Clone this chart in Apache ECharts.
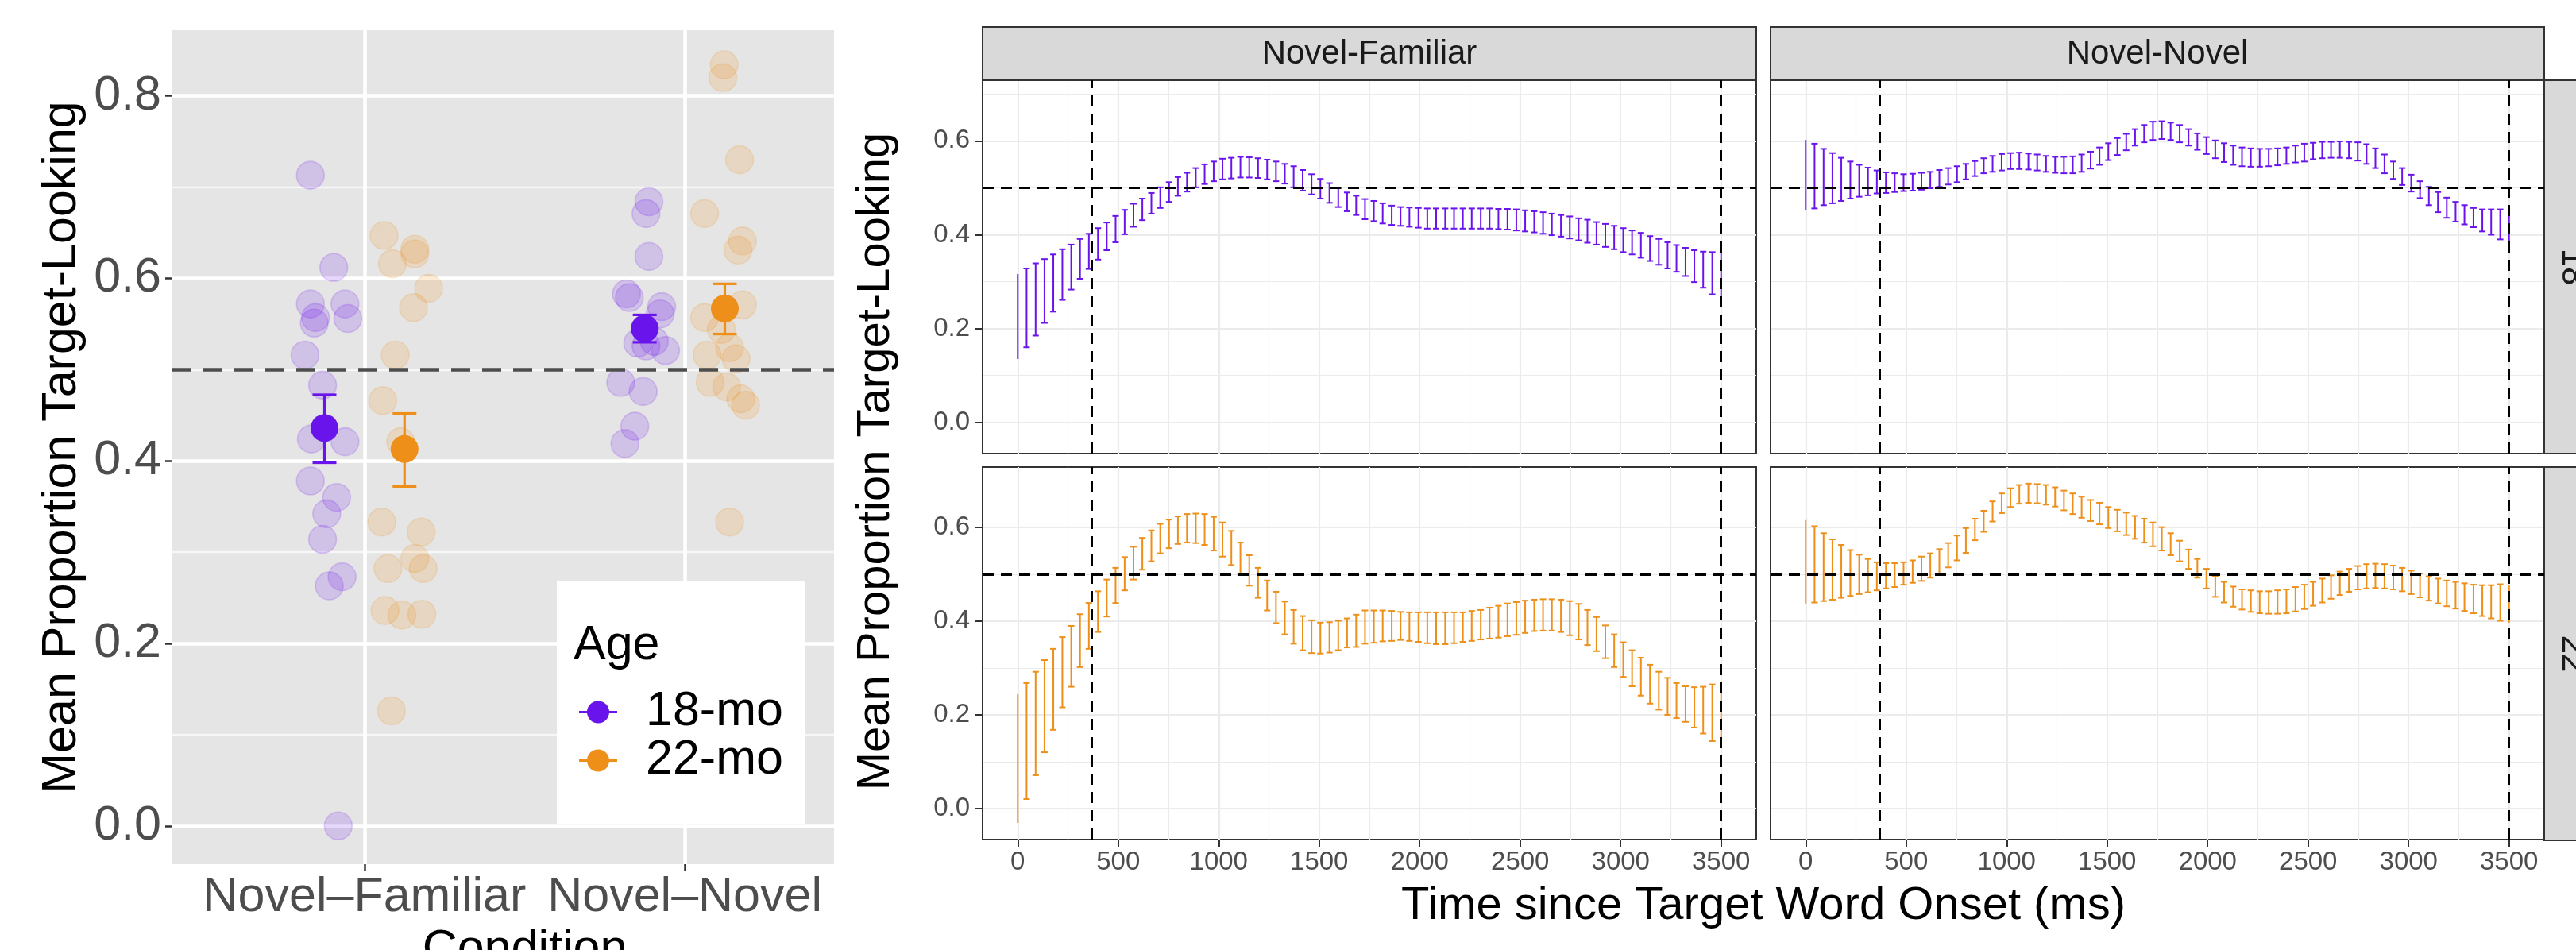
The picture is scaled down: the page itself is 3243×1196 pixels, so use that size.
<!DOCTYPE html>
<html>
<head>
<meta charset="utf-8">
<script src="https://cdn.jsdelivr.net/npm/echarts@6.0.0/dist/echarts.min.js"></script>
<style>
  html, body { margin: 0; padding: 0; background: #fff; }
  #chart { width: 3243px; height: 1196px; }
</style>
</head>
<body>
<div id="chart"></div>
<script>
// ---- left plot: mean proportion by condition and age ----
const conditions = ['Novel–Familiar', 'Novel–Novel'];
const ageGroups = ['18-mo', '22-mo'];
const leftYTicks = [0, 0.2, 0.4, 0.6, 0.8];
const leftYMinor = [0.1, 0.3, 0.5, 0.7];
const chance = 0.5;

// per-child proportions (offset = jittered position relative to the condition)
const nf18 = [0.713, 0.612, 0.572, 0.572, 0.557, 0.556, 0.551, 0.516, 0.483, 0.421, 0.424, 0.378, 0.360, 0.342, 0.314, 0.273, 0.263, 0.0];
const nf18Off = [-0.169, -0.096, -0.169, -0.061, -0.153, -0.052, -0.157, -0.186, -0.131, -0.061, -0.166, -0.169, -0.087, -0.118, -0.131, -0.070, -0.110, -0.082];
const nn18 = [0.684, 0.671, 0.624, 0.583, 0.579, 0.569, 0.561, 0.529, 0.531, 0.521, 0.526, 0.486, 0.476, 0.438, 0.419];
const nn18Off = [-0.112, -0.121, -0.112, -0.182, -0.173, -0.072, -0.077, -0.147, -0.095, -0.060, -0.121, -0.200, -0.130, -0.156, -0.187];
const nf22 = [0.647, 0.632, 0.627, 0.616, 0.589, 0.568, 0.516, 0.466, 0.421, 0.333, 0.322, 0.293, 0.282, 0.282, 0.236, 0.231, 0.232, 0.126];
const nf22Off = [0.061, 0.157, 0.157, 0.087, 0.200, 0.153, 0.096, 0.057, 0.113, 0.054, 0.177, 0.157, 0.073, 0.183, 0.064, 0.117, 0.179, 0.084];
const nn22 = [0.834, 0.820, 0.730, 0.671, 0.641, 0.631, 0.571, 0.557, 0.544, 0.516, 0.512, 0.524, 0.486, 0.481, 0.468, 0.461, 0.333];
const nn22Off = [0.123, 0.119, 0.171, 0.062, 0.180, 0.166, 0.180, 0.062, 0.114, 0.070, 0.160, 0.140, 0.079, 0.131, 0.175, 0.190, 0.140];

// group means with error bars, one value per condition
const mean18 = [0.436, 0.545];
const low18 = [0.398, 0.530];
const high18 = [0.4725, 0.560];
const mean22 = [0.413, 0.567];
const low22 = [0.372, 0.539];
const high22 = [0.452, 0.594];

// ---- right plot: time course ----
const facetCols = ['Novel-Familiar', 'Novel-Novel'];
const facetRows = ['18', '22'];
const timeTicks = [0, 500, 1000, 1500, 2000, 2500, 3000, 3500];
const timeMinor = [250, 750, 1250, 1750, 2250, 2750, 3250];
const rightYTicks = [0, 0.2, 0.4, 0.6];
const rightYMinor = [0.1, 0.3, 0.5, 0.7];
const windowLines = [367, 3500];
const timeBins = [0, 44, 89, 133, 177, 222, 266, 310, 354, 399, 443, 487, 532, 576, 620, 665, 709, 753, 797, 842,
  886, 930, 975, 1019, 1063, 1108, 1152, 1196, 1241, 1285, 1329, 1373, 1418, 1462, 1506, 1551, 1595, 1639, 1684, 1728,
  1772, 1816, 1861, 1905, 1949, 1994, 2038, 2082, 2127, 2171, 2215, 2259, 2304, 2348, 2392, 2437, 2481, 2525, 2570, 2614,
  2658, 2703, 2747, 2791, 2835, 2880, 2924, 2968, 3013, 3057, 3101, 3146, 3190, 3234, 3278, 3323, 3367, 3411, 3456, 3500];

const nfHigh18 = [0.316, 0.328, 0.339, 0.348, 0.358, 0.369, 0.379, 0.391, 0.402, 0.414,
  0.426, 0.440, 0.453, 0.466, 0.477, 0.489, 0.501, 0.512, 0.523, 0.532,
  0.542, 0.550, 0.556, 0.562, 0.564, 0.566, 0.565, 0.563, 0.560, 0.556,
  0.551, 0.546, 0.538, 0.529, 0.519, 0.510, 0.499, 0.490, 0.483, 0.476,
  0.472, 0.467, 0.462, 0.459, 0.458, 0.457, 0.456, 0.456, 0.456, 0.456,
  0.456, 0.456, 0.456, 0.456, 0.455, 0.455, 0.454, 0.452, 0.450, 0.448,
  0.445, 0.442, 0.439, 0.435, 0.432, 0.427, 0.423, 0.419, 0.414, 0.409,
  0.404, 0.397, 0.391, 0.384, 0.378, 0.372, 0.367, 0.364, 0.363, 0.361];
const nfLow18 = [0.135, 0.160, 0.185, 0.212, 0.236, 0.261, 0.283, 0.306, 0.327, 0.347,
  0.367, 0.384, 0.401, 0.417, 0.431, 0.445, 0.457, 0.470, 0.483, 0.492,
  0.501, 0.508, 0.514, 0.518, 0.520, 0.522, 0.522, 0.521, 0.518, 0.514,
  0.509, 0.501, 0.494, 0.486, 0.477, 0.468, 0.459, 0.450, 0.442, 0.433,
  0.429, 0.424, 0.421, 0.419, 0.417, 0.415, 0.413, 0.413, 0.413, 0.413,
  0.413, 0.413, 0.413, 0.413, 0.412, 0.411, 0.409, 0.407, 0.405, 0.402,
  0.399, 0.396, 0.392, 0.388, 0.383, 0.379, 0.374, 0.369, 0.363, 0.358,
  0.351, 0.344, 0.336, 0.328, 0.321, 0.312, 0.299, 0.287, 0.273, 0.259];
const nnHigh18 = [0.602, 0.594, 0.583, 0.574, 0.564, 0.556, 0.549, 0.543, 0.537, 0.533,
  0.531, 0.529, 0.530, 0.532, 0.534, 0.538, 0.542, 0.546, 0.551, 0.557,
  0.563, 0.568, 0.572, 0.574, 0.575, 0.573, 0.571, 0.568, 0.566, 0.566,
  0.567, 0.571, 0.577, 0.586, 0.595, 0.606, 0.615, 0.625, 0.634, 0.641,
  0.642, 0.639, 0.634, 0.625, 0.616, 0.608, 0.601, 0.595, 0.590, 0.586,
  0.584, 0.583, 0.583, 0.584, 0.586, 0.590, 0.594, 0.596, 0.598, 0.598,
  0.599, 0.598, 0.597, 0.593, 0.584, 0.571, 0.556, 0.542, 0.528, 0.514,
  0.502, 0.491, 0.479, 0.470, 0.463, 0.457, 0.454, 0.454, 0.454, 0.457];
const nnLow18 = [0.453, 0.456, 0.463, 0.467, 0.472, 0.477, 0.481, 0.484, 0.488, 0.489,
  0.491, 0.493, 0.494, 0.496, 0.499, 0.502, 0.507, 0.512, 0.518, 0.525,
  0.531, 0.534, 0.537, 0.540, 0.540, 0.539, 0.537, 0.534, 0.532, 0.531,
  0.531, 0.534, 0.541, 0.549, 0.559, 0.570, 0.580, 0.590, 0.597, 0.602,
  0.604, 0.602, 0.597, 0.590, 0.581, 0.572, 0.563, 0.555, 0.549, 0.546,
  0.545, 0.545, 0.546, 0.548, 0.551, 0.554, 0.556, 0.561, 0.563, 0.564,
  0.564, 0.563, 0.558, 0.551, 0.542, 0.531, 0.519, 0.506, 0.492, 0.478,
  0.463, 0.448, 0.436, 0.428, 0.422, 0.416, 0.407, 0.400, 0.390, 0.381];
const nfHigh22 = [0.244, 0.268, 0.292, 0.317, 0.341, 0.366, 0.390, 0.415, 0.439, 0.464,
  0.489, 0.514, 0.537, 0.559, 0.578, 0.594, 0.608, 0.617, 0.624, 0.629,
  0.630, 0.629, 0.623, 0.611, 0.593, 0.568, 0.541, 0.514, 0.487, 0.463,
  0.442, 0.424, 0.411, 0.402, 0.397, 0.398, 0.401, 0.406, 0.414, 0.423,
  0.423, 0.423, 0.422, 0.420, 0.419, 0.419, 0.419, 0.419, 0.419, 0.419,
  0.419, 0.422, 0.424, 0.429, 0.433, 0.438, 0.441, 0.444, 0.446, 0.447,
  0.447, 0.446, 0.443, 0.437, 0.424, 0.409, 0.391, 0.372, 0.355, 0.338,
  0.322, 0.307, 0.292, 0.279, 0.268, 0.261, 0.259, 0.260, 0.265, 0.264];
const nfLow22 = [-0.031, 0.020, 0.071, 0.120, 0.168, 0.216, 0.260, 0.302, 0.341, 0.377,
  0.410, 0.439, 0.466, 0.489, 0.510, 0.528, 0.545, 0.556, 0.565, 0.568,
  0.567, 0.563, 0.551, 0.538, 0.520, 0.499, 0.476, 0.450, 0.423, 0.396,
  0.372, 0.352, 0.338, 0.332, 0.331, 0.333, 0.338, 0.344, 0.345, 0.352,
  0.354, 0.357, 0.358, 0.360, 0.358, 0.356, 0.353, 0.351, 0.351, 0.353,
  0.356, 0.358, 0.361, 0.363, 0.365, 0.368, 0.371, 0.375, 0.379, 0.380,
  0.380, 0.377, 0.370, 0.361, 0.349, 0.336, 0.321, 0.302, 0.281, 0.261,
  0.241, 0.224, 0.211, 0.200, 0.193, 0.185, 0.173, 0.160, 0.144, 0.130];
const nnHigh22 = [0.616, 0.603, 0.588, 0.575, 0.563, 0.552, 0.542, 0.533, 0.526, 0.524,
  0.524, 0.526, 0.530, 0.538, 0.545, 0.554, 0.567, 0.583, 0.599, 0.619,
  0.636, 0.656, 0.673, 0.684, 0.691, 0.694, 0.693, 0.691, 0.686, 0.679,
  0.673, 0.666, 0.659, 0.653, 0.644, 0.638, 0.632, 0.625, 0.619, 0.611,
  0.601, 0.588, 0.572, 0.553, 0.533, 0.512, 0.496, 0.484, 0.474, 0.468,
  0.466, 0.464, 0.464, 0.466, 0.468, 0.473, 0.478, 0.484, 0.491, 0.498,
  0.506, 0.512, 0.518, 0.522, 0.523, 0.522, 0.519, 0.514, 0.508, 0.502,
  0.496, 0.491, 0.487, 0.484, 0.481, 0.478, 0.477, 0.477, 0.479, 0.476];
const nnLow22 = [0.438, 0.440, 0.443, 0.446, 0.450, 0.454, 0.458, 0.462, 0.466, 0.470,
  0.473, 0.478, 0.482, 0.486, 0.493, 0.502, 0.515, 0.530, 0.546, 0.573,
  0.591, 0.613, 0.631, 0.644, 0.651, 0.653, 0.652, 0.649, 0.645, 0.637,
  0.629, 0.621, 0.614, 0.607, 0.599, 0.592, 0.584, 0.576, 0.568, 0.560,
  0.551, 0.541, 0.528, 0.512, 0.493, 0.470, 0.452, 0.440, 0.431, 0.425,
  0.420, 0.417, 0.416, 0.416, 0.417, 0.421, 0.426, 0.433, 0.440, 0.448,
  0.456, 0.463, 0.468, 0.470, 0.471, 0.470, 0.468, 0.464, 0.458, 0.451,
  0.444, 0.438, 0.432, 0.427, 0.422, 0.417, 0.411, 0.406, 0.401, 0.397];

const FONT = "'Liberation Sans', Arial, Helvetica, sans-serif";
const purple = '#6a14ec';
const orange = '#ee8f1a';
const dodge = 0.125;

const chart = echarts.init(document.getElementById('chart'));

function jitterData(offsets, values, cond) {
  return values.map((v, i) => [cond + offsets[i], v]);
}

// error bars of the left plot
function renderMeanBar(params, api) {
  const x = api.value(0);
  const lo = api.coord([x, api.value(1)]);
  const hi = api.coord([x, api.value(2)]);
  const color = api.visual('color');
  const half = 15;
  const st = { stroke: color, lineWidth: 3.2 };
  return {
    type: 'group',
    children: [
      { type: 'line', shape: { x1: hi[0], y1: hi[1], x2: lo[0], y2: lo[1] }, style: st },
      { type: 'line', shape: { x1: hi[0] - half, y1: hi[1], x2: hi[0] + half, y2: hi[1] }, style: st },
      { type: 'line', shape: { x1: lo[0] - half, y1: lo[1], x2: lo[0] + half, y2: lo[1] }, style: st }
    ]
  };
}

// error bars of the time-course panels
function renderTimeBar(params, api) {
  const t = api.value(0);
  const lo = api.coord([t, api.value(1)]);
  const hi = api.coord([t, api.value(2)]);
  const color = api.visual('color');
  const st = { stroke: color, lineWidth: 2 };
  const children = [{ type: 'line', shape: { x1: hi[0], y1: hi[1], x2: lo[0], y2: lo[1] }, style: st }];
  const capped = params.dataIndex > 0 && params.dataIndex < timeBins.length - 1;
  if (capped) {
    const half = 4;
    children.push({ type: 'line', shape: { x1: hi[0] - half, y1: hi[1], x2: hi[0] + half, y2: hi[1] }, style: st });
    children.push({ type: 'line', shape: { x1: lo[0] - half, y1: lo[1], x2: lo[0] + half, y2: lo[1] }, style: st });
  }
  return { type: 'group', children: children };
}

const grids = [
  { left: 217, top: 38, width: 887, height: 1050, show: true, backgroundColor: '#e5e5e5', borderWidth: 0 },
  { left: 1237, top: 101, width: 974, height: 470 },
  { left: 2229, top: 101, width: 974, height: 470 },
  { left: 1237, top: 588, width: 974, height: 469 },
  { left: 2229, top: 588, width: 974, height: 469 }
].map(g => Object.assign({
  show: true, backgroundColor: '#fff', borderColor: '#333', borderWidth: 2, outerBoundsMode: 'none', containLabel: false
}, g));

function minorAxis(gridIndex, position, min, max, values, color, width) {
  return {
    gridIndex: gridIndex, type: 'value', position: position, min: min, max: max,
    axisLine: { show: false, onZero: false },
    axisTick: { show: false, customValues: values },
    axisLabel: { show: false, customValues: values },
    splitLine: { show: true, lineStyle: { color: color, width: width } }
  };
}

function timeAxis(gridIndex, showLabels) {
  return {
    gridIndex: gridIndex, type: 'value', position: 'bottom', min: -175, max: 3675,
    axisLine: { show: false, onZero: false },
    axisTick: { show: showLabels, length: 9, lineStyle: { color: '#333', width: 2 }, customValues: timeTicks },
    axisLabel: { show: showLabels, customValues: timeTicks, formatter: v => String(v), fontSize: 33, color: '#4d4d4d', margin: 12, fontFamily: FONT },
    splitLine: { show: true, lineStyle: { color: '#ebebeb', width: 2.2 } }
  };
}

function propAxis(gridIndex, showLabels) {
  return {
    gridIndex: gridIndex, type: 'value', position: 'left', min: -0.0665, max: 0.7293,
    axisLine: { show: false, onZero: false },
    axisTick: { show: showLabels, length: 10, lineStyle: { color: '#333', width: 2 }, customValues: rightYTicks },
    axisLabel: { show: showLabels, customValues: rightYTicks, formatter: v => v.toFixed(1), fontSize: 33, color: '#4d4d4d', margin: 16, fontFamily: FONT },
    splitLine: { show: true, lineStyle: { color: '#ebebeb', width: 2.2 } }
  };
}

const xAxes = [
  {
    gridIndex: 0, type: 'value', position: 'bottom', min: 0.4, max: 2.6,
    axisLine: { show: false, onZero: false },
    axisTick: { show: true, length: 9, lineStyle: { color: '#333', width: 2.5 }, customValues: [1, 2] },
    axisLabel: { customValues: [1, 2], formatter: v => conditions[Math.round(v) - 1], fontSize: 61, color: '#4d4d4d', margin: 12, fontFamily: FONT },
    splitLine: { show: true, lineStyle: { color: '#fff', width: 4.5 } },
    name: 'Condition', nameLocation: 'middle', nameGap: 72,
    nameTextStyle: { fontSize: 61, color: '#000', fontFamily: FONT, verticalAlign: 'top' }
  },
  timeAxis(1, false), timeAxis(2, false), timeAxis(3, true), timeAxis(4, true),
  minorAxis(1, 'top', -175, 3675, timeMinor, '#ebebeb', 1.2),
  minorAxis(2, 'top', -175, 3675, timeMinor, '#ebebeb', 1.2),
  minorAxis(3, 'top', -175, 3675, timeMinor, '#ebebeb', 1.2),
  minorAxis(4, 'top', -175, 3675, timeMinor, '#ebebeb', 1.2)
];

const yAxes = [
  {
    gridIndex: 0, type: 'value', position: 'left', min: -0.042, max: 0.872,
    axisLine: { show: false, onZero: false },
    axisTick: { show: true, length: 9, lineStyle: { color: '#333', width: 2.5 }, customValues: leftYTicks },
    axisLabel: { customValues: leftYTicks, formatter: v => v.toFixed(1), fontSize: 61, color: '#4d4d4d', margin: 14, fontFamily: FONT },
    splitLine: { show: true, lineStyle: { color: '#fff', width: 4.5 } },
    name: 'Mean Proportion Target-Looking', nameLocation: 'middle', nameGap: 108,
    nameTextStyle: { fontSize: 61, color: '#000', fontFamily: FONT }
  },
  minorAxis(0, 'right', -0.042, 0.872, leftYMinor, '#f7f7f7', 2.4),
  propAxis(1, true), propAxis(2, false), propAxis(3, true), propAxis(4, false),
  minorAxis(1, 'right', -0.0665, 0.7293, rightYMinor, '#ebebeb', 1.2),
  minorAxis(2, 'right', -0.0665, 0.7293, rightYMinor, '#ebebeb', 1.2),
  minorAxis(3, 'right', -0.0665, 0.7293, rightYMinor, '#ebebeb', 1.2),
  minorAxis(4, 'right', -0.0665, 0.7293, rightYMinor, '#ebebeb', 1.2)
];

const series = [];

// jittered children, drawn faint
[
  { name: '18-mo points', color: purple, data: jitterData(nf18Off, nf18, 1).concat(jitterData(nn18Off, nn18, 2)) },
  { name: '22-mo points', color: orange, data: jitterData(nf22Off, nf22, 1).concat(jitterData(nn22Off, nn22, 2)) }
].forEach(s => {
  series.push({
    name: s.name, type: 'scatter', xAxisIndex: 0, yAxisIndex: 0, z: 2,
    symbolSize: 35, data: s.data, silent: true,
    itemStyle: { color: s.color, opacity: 0.17, borderColor: s.color, borderWidth: 1.6 }
  });
});

// group means
[
  { name: '18-mo', color: purple, mean: mean18, low: low18, high: high18, shift: -dodge },
  { name: '22-mo', color: orange, mean: mean22, low: low22, high: high22, shift: dodge }
].forEach(s => {
  series.push({
    name: s.name + ' bars', type: 'custom', xAxisIndex: 0, yAxisIndex: 0, z: 3, silent: true,
    itemStyle: { color: s.color },
    renderItem: renderMeanBar,
    encode: { x: 0, y: [1, 2] },
    data: s.mean.map((m, i) => [i + 1 + s.shift, s.low[i], s.high[i]])
  });
  series.push({
    name: s.name, type: 'scatter', xAxisIndex: 0, yAxisIndex: 0, z: 4, silent: true,
    symbolSize: 35, itemStyle: { color: s.color, opacity: 1 },
    data: s.mean.map((m, i) => [i + 1 + s.shift, m])
  });
});

// chance line on the left plot
series.push({
  name: 'chance', type: 'line', xAxisIndex: 0, yAxisIndex: 0, z: 5, data: [], silent: true,
  markLine: {
    silent: true, symbol: ['none', 'none'], label: { show: false },
    lineStyle: { color: '#4d4d4d', width: 4.5, type: [24, 15] },
    data: [{ yAxis: chance }]
  }
});

// time-course panels
const panels = [
  { grid: 1, high: nfHigh18, low: nfLow18, color: purple },
  { grid: 2, high: nnHigh18, low: nnLow18, color: purple },
  { grid: 3, high: nfHigh22, low: nfLow22, color: orange },
  { grid: 4, high: nnHigh22, low: nnLow22, color: orange }
];
panels.forEach(p => {
  series.push({
    name: 'panel ' + p.grid, type: 'custom', xAxisIndex: p.grid, yAxisIndex: p.grid + 1, z: 3, silent: true,
    itemStyle: { color: p.color },
    renderItem: renderTimeBar,
    encode: { x: 0, y: [1, 2] },
    data: timeBins.map((t, i) => [t, p.low[i], p.high[i]]),
    markLine: {
      silent: true, symbol: ['none', 'none'], label: { show: false },
      lineStyle: { color: '#000', width: 3, type: [14, 9] },
      data: [{ yAxis: chance }].concat(windowLines.map(w => ({ xAxis: w })))
    }
  });
});

const legendIcon = 'path://M0,13 L48,13 L48,16 L0,16 Z M10,14.5 A14,14 0 1,1 38,14.5 A14,14 0 1,1 10,14.5 Z';

const stripStyle = { fill: '#d9d9d9', stroke: '#333', lineWidth: 2 };
const graphics = [
  // right figure's white margin covering the clipped left panel
  { type: 'rect', z: 50, shape: { x: 1050, y: 0, width: 60, height: 1196 }, style: { fill: '#fff' } },
  // legend box and title
  { type: 'rect', z: 3, shape: { x: 701, y: 732, width: 313, height: 305 }, style: { fill: '#fff' } },
  { type: 'text', z: 6, x: 722, y: 813, style: { text: 'Age', fontSize: 61, fontFamily: FONT, fill: '#000', verticalAlign: 'middle' } },
  // right y title
  { type: 'text', z: 60, x: 1103, y: 581, rotation: Math.PI / 2,
    style: { text: 'Mean Proportion Target-Looking', fontSize: 58, fontFamily: FONT, fill: '#000', align: 'center', verticalAlign: 'middle' } },
  // right x title
  { type: 'text', z: 60, x: 2220, y: 1141,
    style: { text: 'Time since Target Word Onset (ms)', fontSize: 58, fontFamily: FONT, fill: '#000', align: 'center', verticalAlign: 'middle' } }
];
facetCols.forEach((c, i) => {
  const x = i === 0 ? 1237 : 2229;
  graphics.push({ type: 'rect', z: 5, shape: { x: x, y: 34, width: 974, height: 67 }, style: stripStyle });
  graphics.push({ type: 'text', z: 6, x: x + 487, y: 68,
    style: { text: c, fontSize: 42, fontFamily: FONT, fill: '#1a1a1a', align: 'center', verticalAlign: 'middle' } });
});
facetRows.forEach((r, i) => {
  const y = i === 0 ? 101 : 588;
  graphics.push({ type: 'rect', z: 5, shape: { x: 3203, y: y, width: 70, height: 470 }, style: stripStyle });
  graphics.push({ type: 'text', z: 6, x: 3238, y: y + 235, rotation: -Math.PI / 2,
    style: { text: r, fontSize: 42, fontFamily: FONT, fill: '#1a1a1a', align: 'center', verticalAlign: 'middle' } });
});

const option = {
  animation: false,
  backgroundColor: '#fff',
  grid: grids,
  xAxis: xAxes,
  yAxis: yAxes,
  legend: {
    data: ageGroups, orient: 'vertical', left: 729, top: 866, padding: 0,
    itemWidth: 48, itemHeight: 30, itemGap: 0, icon: legendIcon, selectedMode: false,
    textStyle: { fontSize: 61, color: '#000', fontFamily: FONT, lineHeight: 59, padding: [0, 0, 0, 31] }
  },
  graphic: { elements: graphics },
  series: series
};

chart.setOption(option);
</script>
</body>
</html>
